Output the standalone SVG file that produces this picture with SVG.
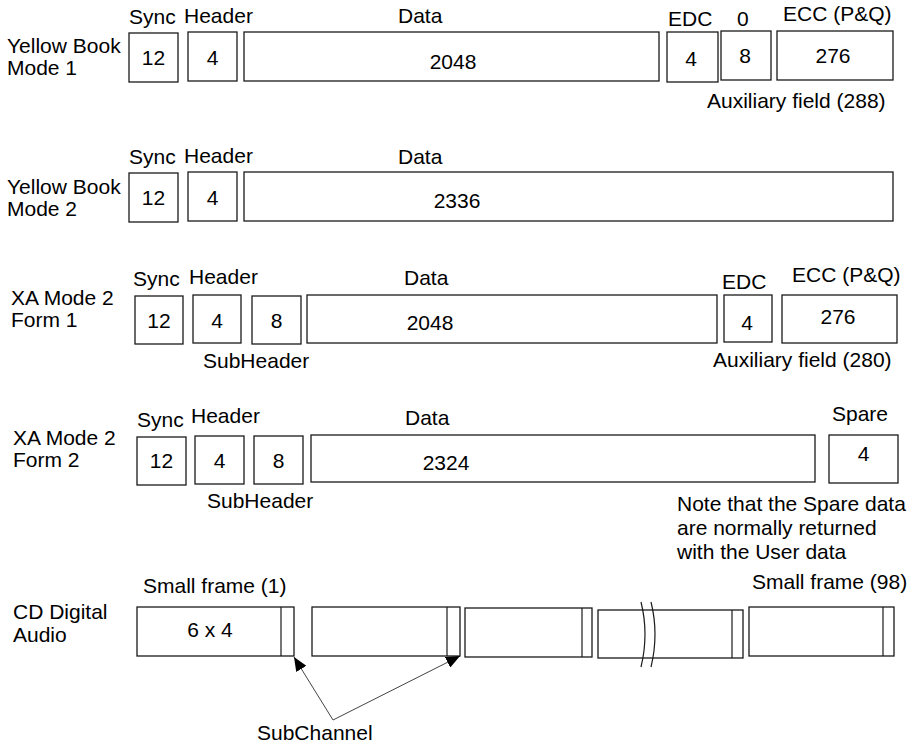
<svg xmlns="http://www.w3.org/2000/svg" width="916" height="746" viewBox="0 0 916 746">
<style>
.bg{fill:#fff}
.box{fill:#fff;stroke:#1a1a1a;stroke-width:1.3}
.ln{fill:none;stroke:#1a1a1a;stroke-width:1.2}
.t{font-family:"Liberation Sans",Arial,sans-serif;font-size:21px;fill:#000}
.c{text-anchor:middle}
.conn{fill:none;stroke:#444;stroke-width:1}
</style>
<defs>
<marker id="ah" markerUnits="userSpaceOnUse" viewBox="0 0 14 12" markerWidth="14" markerHeight="12" refX="14" refY="6" orient="auto">
<path d="M0,0 L14,6 L0,12 z" fill="#000"/>
</marker>
</defs>
<rect class="bg" x="0" y="0" width="916" height="746"/>

<!-- Row 1 -->
<g id="row1-label"><text class="t" x="7" y="53">Yellow Book</text><text class="t" x="7" y="75">Mode 1</text></g>
<g id="r1-sync"><text class="t" x="129" y="24">Sync</text><rect class="box" x="129" y="33" width="49" height="49"/><text class="t c" x="153.5" y="65">12</text></g>
<g id="r1-header"><text class="t" x="184" y="23">Header</text><rect class="box" x="188" y="32" width="49" height="49"/><text class="t c" x="212.5" y="65">4</text></g>
<g id="r1-data"><text class="t" x="398" y="23">Data</text><rect class="box" x="244" y="32" width="415" height="49"/><text class="t c" x="453" y="69">2048</text></g>
<g id="r1-edc"><text class="t" x="668" y="26">EDC</text><rect class="box" x="667" y="32" width="51" height="50"/><text class="t c" x="691" y="66">4</text></g>
<g id="r1-zero"><text class="t" x="737" y="26">0</text><rect class="box" x="721" y="31" width="50" height="49"/><text class="t c" x="745" y="63">8</text></g>
<g id="r1-ecc"><text class="t" x="783" y="21">ECC (P&amp;Q)</text><rect class="box" x="777" y="31" width="116" height="49"/><text class="t c" x="833" y="63">276</text></g>
<g id="r1-aux"><text class="t" x="707" y="108">Auxiliary field (288)</text></g>

<!-- Row 2 -->
<g id="row2-label"><text class="t" x="7" y="194">Yellow Book</text><text class="t" x="7" y="216">Mode 2</text></g>
<g id="r2-sync"><text class="t" x="129" y="164">Sync</text><rect class="box" x="129" y="173" width="49" height="49"/><text class="t c" x="153.5" y="205">12</text></g>
<g id="r2-header"><text class="t" x="184" y="163">Header</text><rect class="box" x="188" y="172" width="49" height="49"/><text class="t c" x="212.5" y="205">4</text></g>
<g id="r2-data"><text class="t" x="398" y="164">Data</text><rect class="box" x="244" y="172" width="649" height="49"/><text class="t c" x="457" y="208">2336</text></g>

<!-- Row 3 -->
<g id="row3-label"><text class="t" x="11" y="305">XA Mode 2</text><text class="t" x="11" y="327">Form 1</text></g>
<g id="r3-sync"><text class="t" x="133" y="286">Sync</text><rect class="box" x="135" y="296" width="48" height="48"/><text class="t c" x="159" y="328">12</text></g>
<g id="r3-header"><text class="t" x="189" y="284">Header</text><rect class="box" x="193" y="295" width="48" height="48"/><text class="t c" x="217" y="328">4</text></g>
<g id="r3-sub"><rect class="box" x="252" y="296" width="49" height="48"/><text class="t c" x="276.5" y="328">8</text><text class="t" x="203" y="368">SubHeader</text></g>
<g id="r3-data"><text class="t" x="404" y="285">Data</text><rect class="box" x="307" y="295" width="410" height="48"/><text class="t c" x="430" y="330">2048</text></g>
<g id="r3-edc"><text class="t" x="722" y="289">EDC</text><rect class="box" x="724" y="295" width="48" height="47"/><text class="t c" x="747" y="330">4</text></g>
<g id="r3-ecc"><text class="t" x="792" y="282">ECC (P&amp;Q)</text><rect class="box" x="782" y="295" width="115" height="48"/><text class="t c" x="838" y="324">276</text></g>
<g id="r3-aux"><text class="t" x="713" y="367">Auxiliary field (280)</text></g>

<!-- Row 4 -->
<g id="row4-label"><text class="t" x="13" y="445">XA Mode 2</text><text class="t" x="13" y="467">Form 2</text></g>
<g id="r4-sync"><text class="t" x="137" y="427">Sync</text><rect class="box" x="137" y="437" width="49" height="48"/><text class="t c" x="161.5" y="468">12</text></g>
<g id="r4-header"><text class="t" x="191" y="423">Header</text><rect class="box" x="195" y="436" width="49" height="48"/><text class="t c" x="219.5" y="468">4</text></g>
<g id="r4-sub"><rect class="box" x="254" y="436" width="49" height="48"/><text class="t c" x="278.5" y="468">8</text><text class="t" x="207" y="508">SubHeader</text></g>
<g id="r4-data"><text class="t" x="405" y="425">Data</text><rect class="box" x="311" y="435" width="504" height="47"/><text class="t c" x="446" y="470">2324</text></g>
<g id="r4-spare"><text class="t" x="832" y="421">Spare</text><rect class="box" x="829" y="435" width="69" height="48"/><text class="t c" x="863.5" y="461">4</text></g>
<g id="r4-note"><text class="t" x="677" y="511">Note that the Spare data</text><text class="t" x="677" y="535">are normally returned</text><text class="t" x="677" y="559">with the User data</text></g>

<!-- Row 5 -->
<g id="row5-label"><text class="t" x="13" y="619">CD Digital</text><text class="t" x="13" y="642">Audio</text></g>
<g id="f1"><text class="t" x="143" y="593">Small frame (1)</text><rect class="box" x="137" y="607" width="157" height="49"/><line class="ln" x1="281" y1="607" x2="281" y2="656"/><text class="t c" x="210" y="637">6 x 4</text></g>
<g id="f2"><rect class="box" x="312" y="607" width="148" height="49"/><line class="ln" x1="447" y1="607" x2="447" y2="656"/></g>
<g id="f3"><rect class="box" x="465" y="608" width="127" height="49"/><line class="ln" x1="582" y1="608" x2="582" y2="657"/></g>
<g id="f4"><rect class="box" x="598" y="610" width="145" height="48"/><line class="ln" x1="732" y1="610" x2="732" y2="658"/></g>
<g id="break"><path class="ln" d="M641,602 Q649,634 641,667"/><path class="ln" d="M651,602 Q659,634 651,667"/></g>
<g id="f98"><text class="t" x="752" y="589">Small frame (98)</text><rect class="box" x="749" y="607" width="145" height="49"/><line class="ln" x1="883" y1="607" x2="883" y2="656"/></g>
<g id="subchannel"><text class="t" x="257" y="740">SubChannel</text></g>

<g id="connectors">
<line class="conn" x1="333" y1="720" x2="294" y2="657" marker-end="url(#ah)"/>
<line class="conn" x1="333" y1="720" x2="460" y2="656" marker-end="url(#ah)"/>
</g>
</svg>
